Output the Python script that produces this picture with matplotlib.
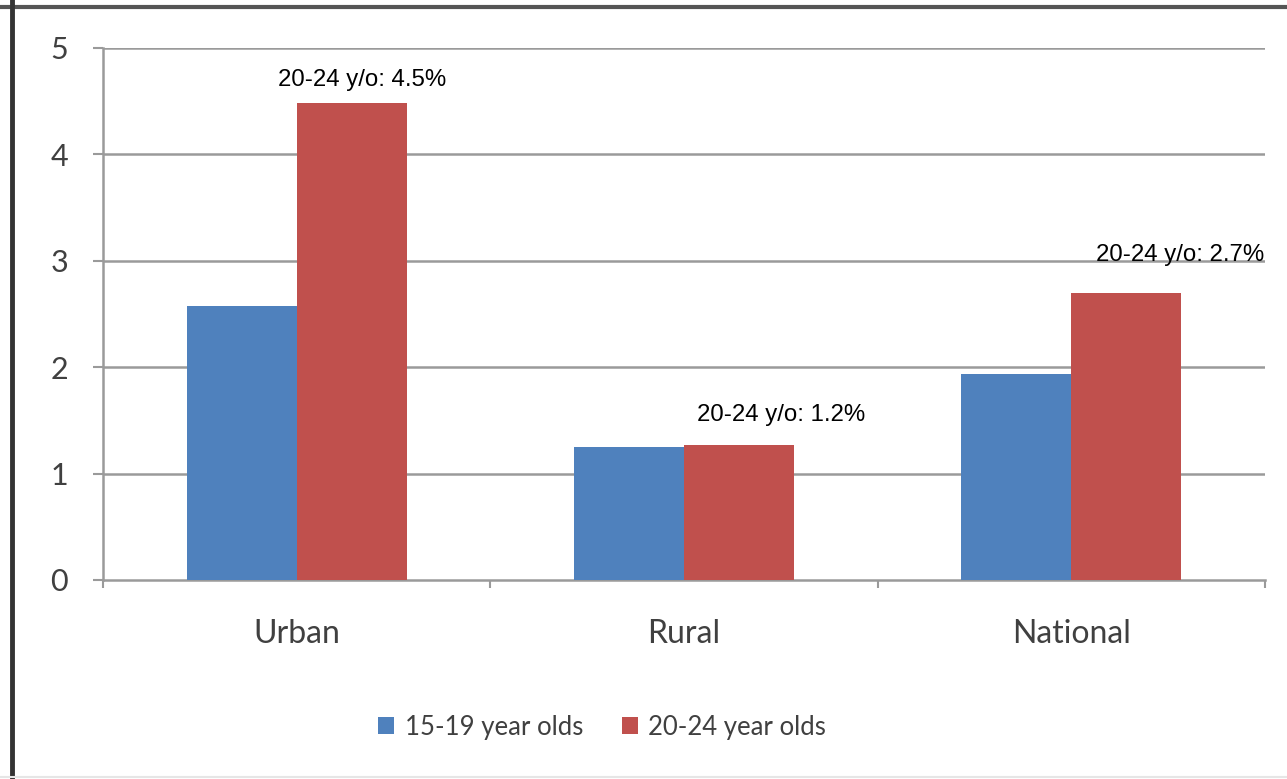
import numpy as np
import matplotlib.pyplot as plt
from matplotlib.lines import Line2D

# data
categories = ["Urban", "Rural", "National"]
series_names = ["15-19 year olds", "20-24 year olds"]
vals_15_19 = [2.57, 1.25, 1.94]
vals_20_24 = [4.48, 1.27, 2.70]
note_texts = ["20-24 y/o: 4.5%", "20-24 y/o: 1.2%", "20-24 y/o: 2.7%"]
yticks = [0, 1, 2, 3, 4, 5]

blue = "#4F81BD"
red = "#C0504D"
grey_txt = "#404040"
grid_col = "#9a9a9a"

fig = plt.figure(figsize=(12.87, 7.79), dpi=100)
ax = fig.add_axes([0.080, 0.2555, 0.903, 0.683])

x = np.arange(len(categories))
w = 0.284
ax.bar(x - w / 2, vals_15_19, width=w, color=blue, label=series_names[0], zorder=3)
ax.bar(x + w / 2, vals_20_24, width=w, color=red, label=series_names[1], zorder=3)

ax.set_xlim(-0.5, len(categories) - 0.5)
ax.set_ylim(0, 5)
ax.set_yticks(yticks)
ax.set_yticklabels([str(t) for t in yticks])
for y in yticks[1:]:
    ax.axhline(y, color=grid_col, lw=1.8, zorder=1)

# category labels at centres, ticks at the boundaries
ax.set_xticks(np.arange(-0.5, len(categories), 1.0))
ax.set_xticklabels([])
ax.set_xticks(x, minor=True)
ax.set_xticklabels(categories, minor=True)
ax.tick_params(axis="x", which="major", direction="out", length=6, width=1.5, color=grid_col)
ax.tick_params(axis="x", which="minor", length=0, pad=28, labelsize=23, labelcolor=grey_txt)
ax.tick_params(axis="y", direction="out", length=7, width=1.5, color=grid_col,
               pad=18, labelsize=22, labelcolor=grey_txt)
for lab in ax.get_xticklabels(minor=True) + ax.get_yticklabels():
    lab.set_fontfamily("Lato")

for s in ["top", "right"]:
    ax.spines[s].set_visible(False)
ax.spines["left"].set_color(grid_col)
ax.spines["left"].set_linewidth(1.8)
ax.spines["bottom"].set_color(grid_col)
ax.spines["bottom"].set_linewidth(1.8)

# annotations above the 20-24 bars
note_dx = [0.17, 0.25, 0.28]
note_dy = [0.22, 0.28, 0.35]
for i, t in enumerate(note_texts):
    ax.text(x[i] + note_dx[i], vals_20_24[i] + note_dy[i], t, ha="center", va="center",
            fontsize=17.3, family="Liberation Sans", color="black", zorder=4)

leg = fig.legend(loc="center", bbox_to_anchor=(602 / 1287, 1 - 727 / 779), ncol=2, frameon=False,
                 prop={"family": "Lato", "size": 18.5}, handlelength=0.65, handleheight=0.65,
                 handletextpad=0.4, columnspacing=1.5)
for t in leg.get_texts():
    t.set_color(grey_txt)

# chart frame: dark top and left edges, faint bottom
fig.add_artist(Line2D([0, 1], [1 - 6.5 / 779] * 2, transform=fig.transFigure, color="#555555", lw=3))
fig.add_artist(Line2D([12 / 1287] * 2, [0, 1], transform=fig.transFigure, color="#333333", lw=3.5))
fig.add_artist(Line2D([0, 1], [1 - 777 / 779] * 2, transform=fig.transFigure, color="#e6e6e6", lw=1.5))

fig.savefig("out.png", dpi=100)
